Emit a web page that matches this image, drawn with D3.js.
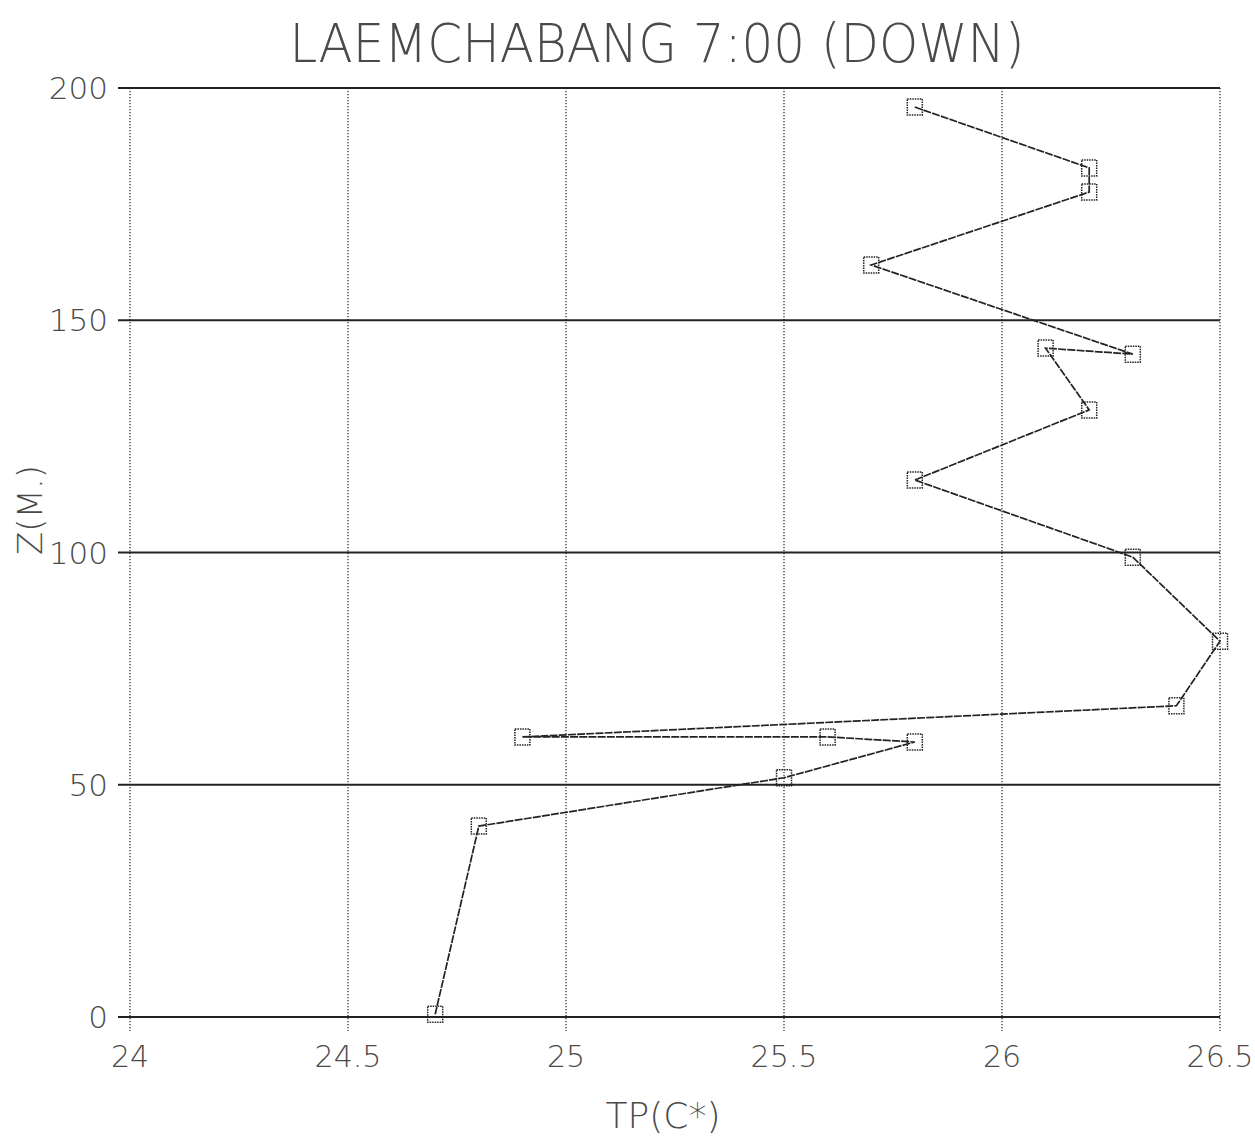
<!DOCTYPE html>
<html>
<head>
<meta charset="utf-8">
<script src="https://cdn.jsdelivr.net/npm/d3@7/dist/d3.min.js"></script>
<style>
  html, body { margin: 0; padding: 0; background: #ffffff; }
  svg text { font-family: "DejaVu Sans", sans-serif; font-weight: 200; fill: #4a4a4a; }
</style>
</head>
<body>
<svg id="chart" width="1255" height="1138"></svg>
<script>
// ---- data (cast order top -> bottom) ----
const temperature = [25.8, 26.2, 26.2, 25.7, 26.3, 26.1, 26.2, 25.8, 26.3, 26.5, 26.4, 24.9, 25.6, 25.8, 25.5, 24.8, 24.7];
const depth       = [195.9, 182.8, 177.6, 161.9, 142.7, 144.0, 130.7, 115.6, 99.0, 80.9, 67.0, 60.3, 60.3, 59.2, 51.5, 41.1, 0.6];
const xTicks = [24, 24.5, 25, 25.5, 26, 26.5];
const yTicks = [0, 50, 100, 150, 200];
const titleText = "LAEMCHABANG 7:00 (DOWN)";
const xLabel = "TP(C*)";
const yLabel = "Z(M.)";

const svg = d3.select("#chart");
const x = d3.scaleLinear().domain([24, 26.5]).range([130, 1220]);
const y = d3.scaleLinear().domain([0, 200]).range([1017, 88]);

// vertical dotted grid lines with ticks below the axis
svg.append("g")
  .attr("transform", `translate(0,${y(0)})`)
  .call(g => {
    g.selectAll(".vgrid").data(xTicks).enter().append("line")
      .attr("x1", d => x(d)).attr("x2", d => x(d))
      .attr("y1", y(200) - y(0)).attr("y2", 14)
      .attr("stroke", "#333").attr("stroke-width", 1.3).attr("stroke-dasharray", "1.2,1.8");
    g.selectAll(".xl").data(xTicks).enter().append("text")
      .attr("x", d => x(d)).attr("y", 50)
      .attr("text-anchor", "middle")
      .attr("font-size", 30)
      .text(d => d3.format("")(d));
  });

// horizontal solid grid lines
svg.append("g").call(g => {
  g.selectAll(".hgrid").data(yTicks).enter().append("line")
    .attr("x1", 118).attr("x2", x(26.5))
    .attr("y1", d => y(d)).attr("y2", d => y(d))
    .attr("stroke", "#222").attr("stroke-width", 2);
  g.selectAll(".yl").data(yTicks).enter().append("text")
    .attr("x", 108).attr("y", d => y(d) + 11)
    .attr("text-anchor", "end")
    .attr("font-size", 31)
    .text(d => d);
});

// profile line
const line = d3.line().x((d, i) => x(temperature[i])).y((d, i) => y(depth[i]));
svg.append("path")
  .datum(depth)
  .attr("d", line)
  .attr("fill", "none")
  .attr("stroke", "#222")
  .attr("stroke-width", 1.7)
  .attr("stroke-dasharray", "8,1.2");

// square markers
svg.append("g").selectAll("rect").data(depth).enter().append("rect")
  .attr("x", (d, i) => x(temperature[i]) - 7.5)
  .attr("y", d => y(d) - 8)
  .attr("width", 15).attr("height", 16)
  .attr("fill", "none")
  .attr("stroke", "#222")
  .attr("stroke-width", 1.5)
  .attr("stroke-dasharray", "1.5,1");

// title
svg.append("text")
  .attr("x", 657).attr("y", 62)
  .attr("text-anchor", "middle")
  .attr("font-size", 54)
  .attr("textLength", 735)
  .attr("lengthAdjust", "spacingAndGlyphs")
  .text(titleText);

// axis labels
svg.append("text")
  .attr("x", 663).attr("y", 1128)
  .attr("text-anchor", "middle")
  .attr("font-size", 36)
  .text(xLabel);

svg.append("text")
  .attr("transform", "translate(42,510) rotate(-90)")
  .attr("text-anchor", "middle")
  .attr("font-size", 34)
  .text(yLabel);
</script>
</body>
</html>
